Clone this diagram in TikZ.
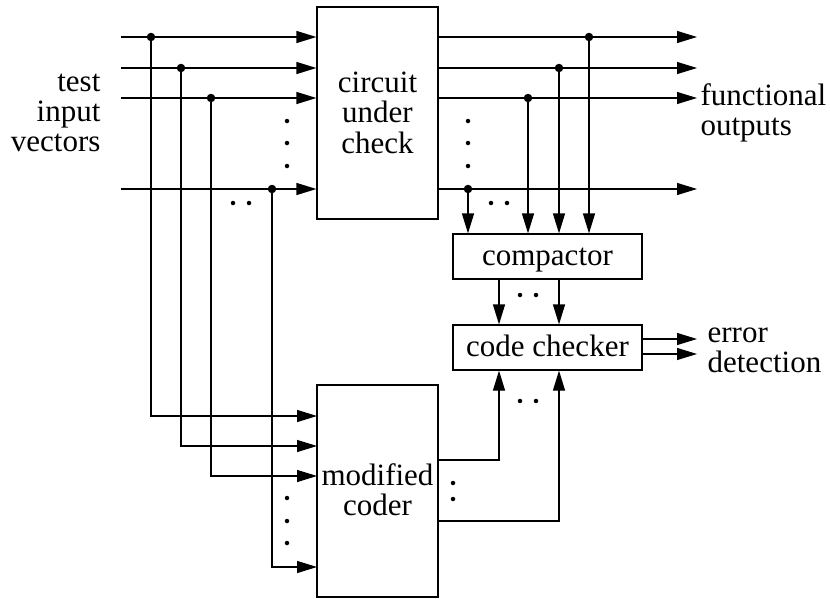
\documentclass[tikz,border=0pt]{standalone}
\usepackage{fontspec}
\setmainfont{Liberation Serif}
\newfontfamily\tmsfont{Liberation Serif}
\usetikzlibrary{arrows.meta}
\renewcommand\arraystretch{1}
\newcommand\bigtxt{\tmsfont\fontsize{31}{30}\selectfont}
\begin{document}
\begin{tikzpicture}[x=1pt,y=-1pt,line width=1.2pt,
  arr/.style={-{Triangle[length=20pt,width=12pt]}},
  blk/.style={draw,inner sep=0pt,font=\bigtxt},
  jdot/.style={circle,fill,inner sep=0pt,minimum size=8.5pt},
  sdot/.style={circle,fill,inner sep=0pt,minimum size=4.5pt},
  txt/.style={inner sep=0pt,font=\bigtxt}]
\useasboundingbox (0,0) rectangle (830,598);
% blocks
\node[blk,minimum width=121pt,minimum height=212pt,text height=24pt,text depth=66pt] (cuc) at (377.5,113)
  {\begin{tabular}[t]{@{}c@{}}circuit\\under\\check\end{tabular}};
\node[blk,minimum width=121pt,minimum height=212pt,text height=39pt,text depth=51pt] (mc) at (377.5,491)
  {\begin{tabular}[t]{@{}c@{}}modified\\coder\end{tabular}};
\node[blk,minimum width=189pt,minimum height=45pt,text height=20pt,text depth=3pt] (comp) at (547.5,256.5) {compactor};
\node[blk,minimum width=189pt,minimum height=45pt,text height=20pt,text depth=3pt] (cc) at (547.5,347.5) {code checker};
% labels
\node[txt,anchor=base east] (tiv) at (101,91) {\begin{tabular}[t]{@{}r@{}}test\\input\\vectors\end{tabular}};
\node[txt,anchor=base west] (fo) at (700,105) {\begin{tabular}[t]{@{}l@{}}functional\\outputs\end{tabular}};
\node[txt,anchor=base west] (ed) at (707,342) {\begin{tabular}[t]{@{}l@{}}error\\detection\end{tabular}};
% input line starts and junctions
\coordinate (in1) at (121,37);  \coordinate (in2) at (121,68);
\coordinate (in3) at (121,98);  \coordinate (in4) at (121,189);
\coordinate (j1) at (151,37);   \coordinate (j2) at (181,68);
\coordinate (j3) at (211,98);   \coordinate (j4) at (272,189);
\coordinate (mi1) at (317,416); \coordinate (mi2) at (317,446);
\coordinate (mi3) at (317,476); \coordinate (mi4) at (317,567);
\foreach \i in {1,2,3,4} {\draw[arr] (in\i) -- (in\i -| cuc.west);}
\foreach \i in {1,2,3,4} {\draw[arr] (j\i) |- (mi\i);}
\foreach \i in {1,2,3,4} {\node[jdot] (jd\i) at (j\i) {};}
% outputs
\coordinate (o1) at (697,37);  \coordinate (o2) at (697,68);
\coordinate (o3) at (697,98);  \coordinate (o4) at (697,189);
\coordinate (k1) at (589,37);  \coordinate (k2) at (559,68);
\coordinate (k3) at (528,98);  \coordinate (k4) at (468,189);
\foreach \i in {1,2,3,4} {\draw[arr] (o\i -| cuc.east) -- (o\i);}
\foreach \i in {1,2,3,4} {\draw[arr] (k\i) -- (k\i |- comp.north);}
\foreach \i in {1,2,3,4} {\node[jdot] (kd\i) at (k\i) {};}
% compactor to code checker
\coordinate (ca) at (499,279); \coordinate (cb) at (559,279);
\draw[arr] (ca) -- (ca |- cc.north);
\draw[arr] (cb) -- (cb |- cc.north);
% modified coder to code checker
\coordinate (m1) at (437,460); \coordinate (m2) at (437,521);
\draw[arr] (m1) -| (ca |- cc.south);
\draw[arr] (m2) -| (cb |- cc.south);
% error detection outputs
\coordinate (e1) at (697,339); \coordinate (e2) at (697,354);
\draw[arr] (e1 -| cc.east) -- (e1);
\draw[arr] (e2 -| cc.east) -- (e2);
% ellipsis dots
\foreach \p in {(287,121),(287,143),(287,166),(233,203),(249,203),
                (468,121),(468,143),(468,166),(491,203),(507,203),
                (520,295),(536,295),(520,401),(536,401),
                (287,498),(287,521),(287,543),(453,483),(453,499)}
  {\node[sdot] at \p {};}
\end{tikzpicture}
\end{document}
